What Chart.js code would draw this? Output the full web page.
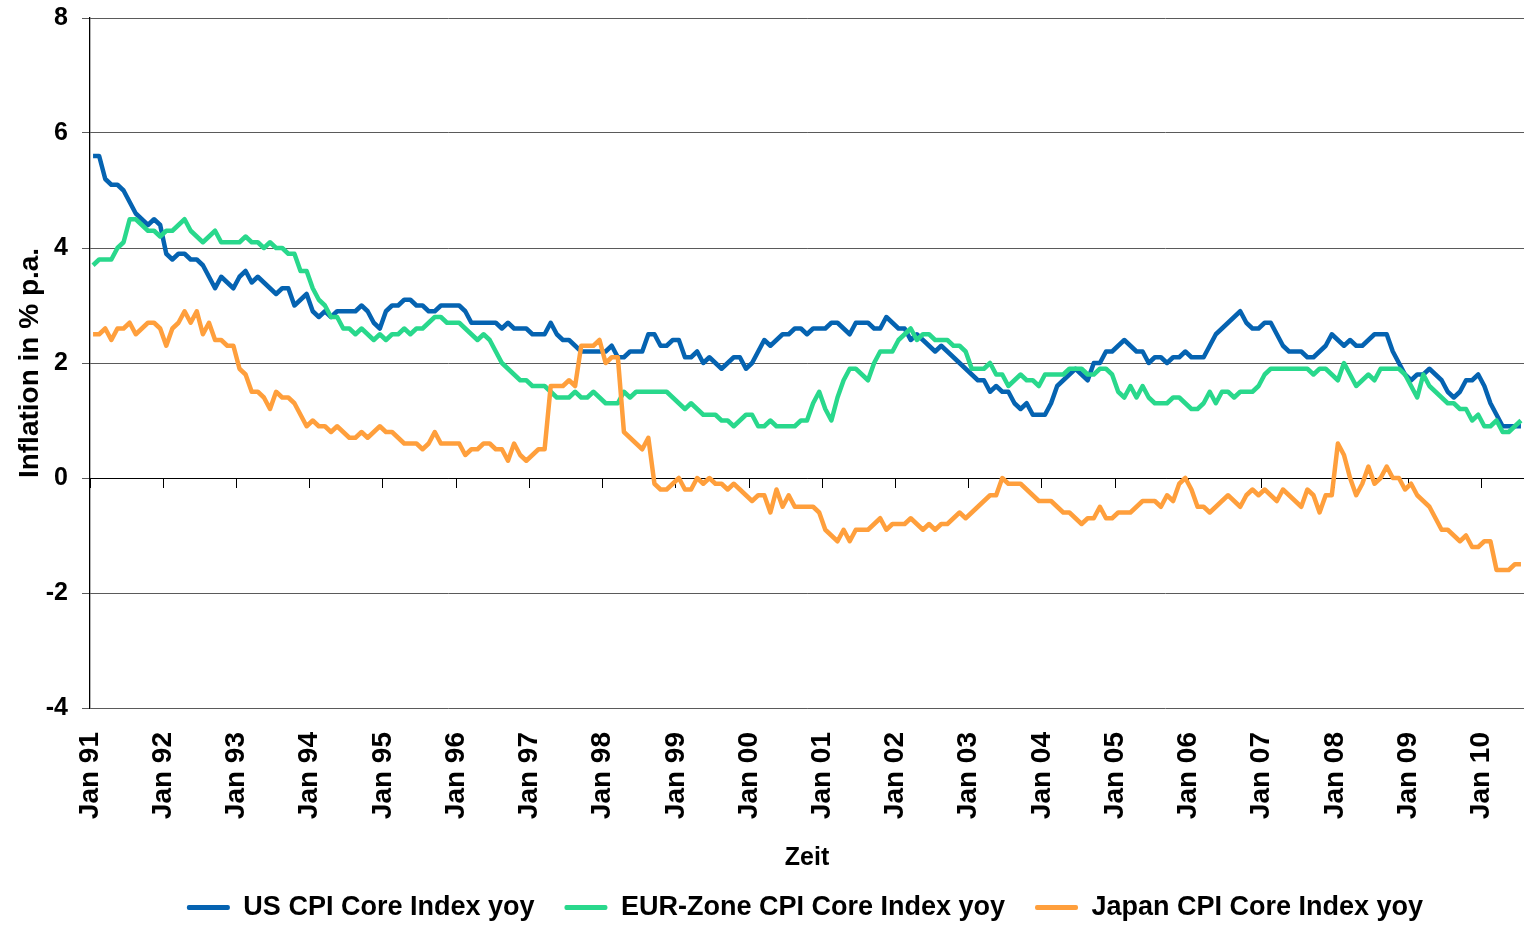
<!DOCTYPE html>
<html>
<head>
<meta charset="utf-8">
<script src="https://cdn.jsdelivr.net/npm/chart.js@4"></script>
<style>
  html, body { margin: 0; padding: 0; background: #fff; overflow: hidden; }
  #wrap { width: 1610px; height: 925px; }
</style>
</head>
<body>
<div id="wrap"><canvas id="cpi" width="1610" height="925"></canvas></div>
<script>
// monthly data, Jan 91 .. Jul 10
const monthNames = ['Jan', 'Feb', 'Mar', 'Apr', 'May', 'Jun', 'Jul', 'Aug', 'Sep', 'Oct', 'Nov', 'Dec'];
const years = ['91', '92', '93', '94', '95', '96', '97', '98', '99', '00',
  '01', '02', '03', '04', '05', '06', '07', '08', '09', '10'];
const tickLabels = years.map(y => 'Jan ' + y);

const usCore = [
  5.6, 5.6, 5.2, 5.1, 5.1, 5.0, 4.8, 4.6, 4.5, 4.4, 4.5, 4.4,
  3.9, 3.8, 3.9, 3.9, 3.8, 3.8, 3.7, 3.5, 3.3, 3.5, 3.4, 3.3,
  3.5, 3.6, 3.4, 3.5, 3.4, 3.3, 3.2, 3.3, 3.3, 3.0, 3.1, 3.2,
  2.9, 2.8, 2.9, 2.8, 2.9, 2.9, 2.9, 2.9, 3.0, 2.9, 2.7, 2.6,
  2.9, 3.0, 3.0, 3.1, 3.1, 3.0, 3.0, 2.9, 2.9, 3.0, 3.0, 3.0,
  3.0, 2.9, 2.7, 2.7, 2.7, 2.7, 2.7, 2.6, 2.7, 2.6, 2.6, 2.6,
  2.5, 2.5, 2.5, 2.7, 2.5, 2.4, 2.4, 2.3, 2.2, 2.2, 2.2, 2.2,
  2.2, 2.3, 2.1, 2.1, 2.2, 2.2, 2.2, 2.5, 2.5, 2.3, 2.3, 2.4,
  2.4, 2.1, 2.1, 2.2, 2.0, 2.1, 2.0, 1.9, 2.0, 2.1, 2.1, 1.9,
  2.0, 2.2, 2.4, 2.3, 2.4, 2.5, 2.5, 2.6, 2.6, 2.5, 2.6, 2.6,
  2.6, 2.7, 2.7, 2.6, 2.5, 2.7, 2.7, 2.7, 2.6, 2.6, 2.8, 2.7,
  2.6, 2.6, 2.4, 2.5, 2.4, 2.3, 2.2, 2.3, 2.2, 2.1, 2.0, 1.9,
  1.8, 1.7, 1.7, 1.5, 1.6, 1.5, 1.5, 1.3, 1.2, 1.3, 1.1, 1.1,
  1.1, 1.3, 1.6, 1.7, 1.8, 1.9, 1.8, 1.7, 2.0, 2.0, 2.2, 2.2,
  2.3, 2.4, 2.3, 2.2, 2.2, 2.0, 2.1, 2.1, 2.0, 2.1, 2.1, 2.2,
  2.1, 2.1, 2.1, 2.3, 2.5, 2.6, 2.7, 2.8, 2.9, 2.7, 2.6, 2.6,
  2.7, 2.7, 2.5, 2.3, 2.2, 2.2, 2.2, 2.1, 2.1, 2.2, 2.3, 2.5,
  2.4, 2.3, 2.4, 2.3, 2.3, 2.4, 2.5, 2.5, 2.5, 2.2, 2.0, 1.8,
  1.7, 1.8, 1.8, 1.9, 1.8, 1.7, 1.5, 1.4, 1.5, 1.7, 1.7, 1.8,
  1.6, 1.3, 1.1, 0.9, 0.9, 0.9, 0.9
];

const eurCore = [
  3.7, 3.8, 3.8, 3.8, 4.0, 4.1, 4.5, 4.5, 4.4, 4.3, 4.3, 4.2,
  4.3, 4.3, 4.4, 4.5, 4.3, 4.2, 4.1, 4.2, 4.3, 4.1, 4.1, 4.1,
  4.1, 4.2, 4.1, 4.1, 4.0, 4.1, 4.0, 4.0, 3.9, 3.9, 3.6, 3.6,
  3.3, 3.1, 3.0, 2.8, 2.8, 2.6, 2.6, 2.5, 2.6, 2.5, 2.4, 2.5,
  2.4, 2.5, 2.5, 2.6, 2.5, 2.6, 2.6, 2.7, 2.8, 2.8, 2.7, 2.7,
  2.7, 2.6, 2.5, 2.4, 2.5, 2.4, 2.2, 2.0, 1.9, 1.8, 1.7, 1.7,
  1.6, 1.6, 1.6, 1.5, 1.4, 1.4, 1.4, 1.5, 1.4, 1.4, 1.5, 1.4,
  1.3, 1.3, 1.3, 1.5, 1.4, 1.5, 1.5, 1.5, 1.5, 1.5, 1.5, 1.4,
  1.3, 1.2, 1.3, 1.2, 1.1, 1.1, 1.1, 1.0, 1.0, 0.9, 1.0, 1.1,
  1.1, 0.9, 0.9, 1.0, 0.9, 0.9, 0.9, 0.9, 1.0, 1.0, 1.3, 1.5,
  1.2, 1.0, 1.4, 1.7, 1.9, 1.9, 1.8, 1.7, 2.0, 2.2, 2.2, 2.2,
  2.4, 2.5, 2.6, 2.4, 2.5, 2.5, 2.4, 2.4, 2.4, 2.3, 2.3, 2.2,
  1.9, 1.9, 1.9, 2.0, 1.8, 1.8, 1.6, 1.7, 1.8, 1.7, 1.7, 1.6,
  1.8, 1.8, 1.8, 1.8, 1.9, 1.9, 1.9, 1.8, 1.8, 1.9, 1.9, 1.8,
  1.5, 1.4, 1.6, 1.4, 1.6, 1.4, 1.3, 1.3, 1.3, 1.4, 1.4, 1.3,
  1.2, 1.2, 1.3, 1.5, 1.3, 1.5, 1.5, 1.4, 1.5, 1.5, 1.5, 1.6,
  1.8, 1.9, 1.9, 1.9, 1.9, 1.9, 1.9, 1.9, 1.8, 1.9, 1.9, 1.8,
  1.7, 2.0, 1.8, 1.6, 1.7, 1.8, 1.7, 1.9, 1.9, 1.9, 1.9, 1.8,
  1.6, 1.4, 1.8, 1.6, 1.5, 1.4, 1.3, 1.3, 1.2, 1.2, 1.0, 1.1,
  0.9, 0.9, 1.0, 0.8, 0.8, 0.9, 1.0
];

const japanCore = [
  2.5, 2.5, 2.6, 2.4, 2.6, 2.6, 2.7, 2.5, 2.6, 2.7, 2.7, 2.6,
  2.3, 2.6, 2.7, 2.9, 2.7, 2.9, 2.5, 2.7, 2.4, 2.4, 2.3, 2.3,
  1.9, 1.8, 1.5, 1.5, 1.4, 1.2, 1.5, 1.4, 1.4, 1.3, 1.1, 0.9,
  1.0, 0.9, 0.9, 0.8, 0.9, 0.8, 0.7, 0.7, 0.8, 0.7, 0.8, 0.9,
  0.8, 0.8, 0.7, 0.6, 0.6, 0.6, 0.5, 0.6, 0.8, 0.6, 0.6, 0.6,
  0.6, 0.4, 0.5, 0.5, 0.6, 0.6, 0.5, 0.5, 0.3, 0.6, 0.4, 0.3,
  0.4, 0.5, 0.5, 1.6, 1.6, 1.6, 1.7, 1.6, 2.3, 2.3, 2.3, 2.4,
  2.0, 2.1, 2.1, 0.8, 0.7, 0.6, 0.5, 0.7, -0.1, -0.2, -0.2, -0.1,
  0.0, -0.2, -0.2, 0.0, -0.1, 0.0, -0.1, -0.1, -0.2, -0.1, -0.2, -0.3,
  -0.4, -0.3, -0.3, -0.6, -0.2, -0.5, -0.3, -0.5, -0.5, -0.5, -0.5, -0.6,
  -0.9, -1.0, -1.1, -0.9, -1.1, -0.9, -0.9, -0.9, -0.8, -0.7, -0.9, -0.8,
  -0.8, -0.8, -0.7, -0.8, -0.9, -0.8, -0.9, -0.8, -0.8, -0.7, -0.6, -0.7,
  -0.6, -0.5, -0.4, -0.3, -0.3, 0.0, -0.1, -0.1, -0.1, -0.2, -0.3, -0.4,
  -0.4, -0.4, -0.5, -0.6, -0.6, -0.7, -0.8, -0.7, -0.7, -0.5, -0.7, -0.7,
  -0.6, -0.6, -0.6, -0.5, -0.4, -0.4, -0.4, -0.5, -0.3, -0.4, -0.1, 0.0,
  -0.2, -0.5, -0.5, -0.6, -0.5, -0.4, -0.3, -0.4, -0.5, -0.3, -0.2, -0.3,
  -0.2, -0.3, -0.4, -0.2, -0.3, -0.4, -0.5, -0.2, -0.3, -0.6, -0.3, -0.3,
  0.6, 0.4, 0.0, -0.3, -0.1, 0.2, -0.1, 0.0, 0.2, 0.0, 0.0, -0.2,
  -0.1, -0.3, -0.4, -0.5, -0.7, -0.9, -0.9, -1.0, -1.1, -1.0, -1.2, -1.2,
  -1.1, -1.1, -1.6, -1.6, -1.6, -1.5, -1.5
];

const months = [];
years.forEach(y => monthNames.forEach(m => months.push(m + ' ' + y)));
months.length = usCore.length;

const FONT = "'Liberation Sans', Arial, sans-serif";
const bold = size => ({ family: FONT, size: size, weight: 'bold' });

new Chart(document.getElementById('cpi'), {
  type: 'line',
  data: {
    labels: months,
    datasets: [
      { label: 'US CPI Core Index yoy', data: usCore, borderColor: '#0563b1', backgroundColor: '#0563b1', order: 3 },
      { label: 'EUR-Zone CPI Core Index yoy', data: eurCore, borderColor: '#29d88c', backgroundColor: '#29d88c', order: 2 },
      { label: 'Japan CPI Core Index yoy', data: japanCore, borderColor: '#ff9f3c', backgroundColor: '#ff9f3c', order: 1 }
    ]
  },
  options: {
    responsive: false,
    animation: false,
    devicePixelRatio: 1,
    layout: { padding: { left: 0, top: 18, right: 0, bottom: -6 } },
    elements: {
      line: { borderWidth: 4.5, tension: 0, borderJoinStyle: 'round', fill: false },
      point: { radius: 0, hoverRadius: 0 }
    },
    scales: {
      x: {
        type: 'category',
        position: 'bottom',
        offset: true,
        grid: { display: false, drawTicks: false },
        border: { display: false },
        ticks: {
          autoSkip: false,
          minRotation: 90,
          maxRotation: 90,
          padding: 24,
          labelOffset: -3,
          color: '#000',
          font: bold(28),
          callback: (v, i) => (i % 12 === 0 ? tickLabels[i / 12] : '')
        },
        title: { display: true, text: 'Zeit', color: '#000', font: bold(25), padding: { top: 0, bottom: -9 } },
        afterFit: s => { s.height = 156; }
      },
      // axis line with year ticks sitting on the zero line
      xz: {
        type: 'category',
        axis: 'x',
        position: { y: 0 },
        offset: true,
        grid: {
          offset: true,
          drawOnChartArea: false,
          tickLength: 9,
          tickWidth: 1,
          tickColor: ctx => (ctx.index % 12 === 0 ? '#000' : 'rgba(0,0,0,0)')
        },
        border: { display: true, color: '#000', width: 1 },
        ticks: { display: false, autoSkip: false }
      },
      y: {
        min: -4,
        max: 8,
        ticks: { stepSize: 2, padding: 14, color: '#000', font: bold(25) },
        grid: { color: '#5a5a5a', lineWidth: 1, tickLength: 8, tickColor: '#5a5a5a' },
        border: { display: true, color: '#000', width: 1.3 },
        title: { display: true, text: 'Inflation in % p.a.', color: '#000', font: bold(28), padding: { top: 13, bottom: 0 } },
        afterFit: s => { s.width = 90; s.paddingTop = 0; s.paddingBottom = 0; }
      },
      // empty strip on the right, beyond the visible window
      yr: {
        type: 'linear',
        axis: 'y',
        position: 'right',
        grid: { display: false, drawTicks: false },
        border: { display: false },
        ticks: { display: false },
        afterFit: s => { s.width = 86; s.paddingTop = 0; s.paddingBottom = 0; }
      }
    },
    plugins: {
      tooltip: { enabled: false },
      legend: {
        position: 'bottom',
        labels: {
          boxWidth: 43,
          boxHeight: 5,
          padding: 30,
          color: '#000',
          font: bold(27),
          generateLabels: chart => chart.data.datasets.map((ds, i) => ({
            text: ds.label,
            fillStyle: ds.borderColor,
            strokeStyle: ds.borderColor,
            lineWidth: 0,
            borderRadius: 2,
            hidden: false,
            datasetIndex: i
          }))
        }
      }
    }
  }
});
</script>
</body>
</html>
